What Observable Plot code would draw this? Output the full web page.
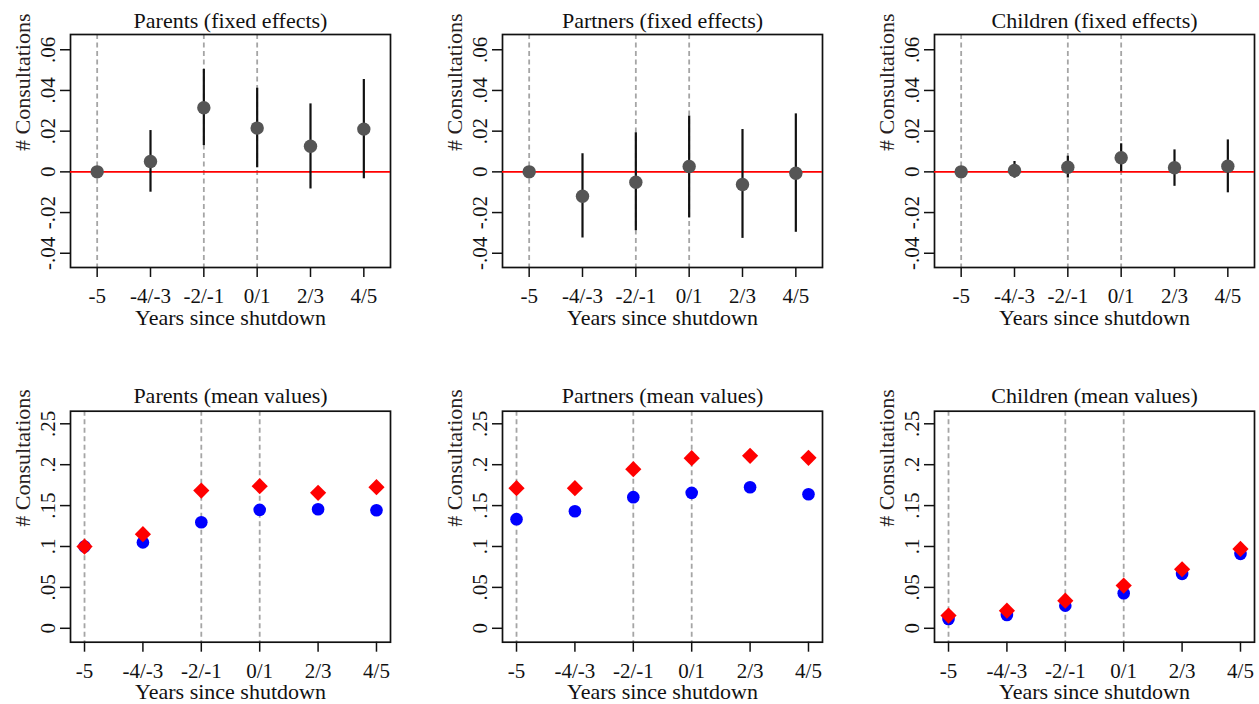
<!DOCTYPE html>
<html>
<head>
<meta charset="utf-8">
<script src="https://cdn.jsdelivr.net/npm/d3@7"></script>
<script src="https://cdn.jsdelivr.net/npm/@observablehq/plot@0.6"></script>
<style>
  html, body { margin: 0; padding: 0; background: #fff; }
  #wrap { position: relative; width: 1259px; height: 704px; overflow: hidden; background: #fff; }
  .panel { position: absolute; }
  #wrap svg, #wrap svg text { font-family: "Liberation Serif", "Times New Roman", serif !important; }
</style>
</head>
<body>
<div id="wrap"></div>
<script>
// ---- Data ----
const periods = ["-5", "-4/-3", "-2/-1", "0/1", "2/3", "4/5"];
const dashedPeriods = ["-5", "-2/-1", "0/1"];

const feTicks = [-0.04, -0.02, 0, 0.02, 0.04, 0.06];
const meanTicks = [0, 0.05, 0.1, 0.15, 0.2, 0.25];

// Fixed effects: point estimates and confidence bounds
const parentsFE   = [0, 0.0051, 0.0315, 0.0215, 0.0126, 0.0210];
const parentsLo   = [null, -0.0100, 0.0129, 0.0020, -0.0084, -0.0034];
const parentsHi   = [null, 0.0203, 0.0503, 0.0411, 0.0334, 0.0454];

const partnersFE  = [0, -0.0120, -0.0051, 0.0026, -0.0062, -0.0007];
const partnersLo  = [null, -0.0325, -0.0289, -0.0226, -0.0327, -0.0297];
const partnersHi  = [null, 0.0089, 0.0192, 0.0274, 0.0208, 0.0285];

const childrenFE  = [0, 0.0007, 0.0023, 0.0069, 0.0020, 0.0028];
const childrenLo  = [null, -0.0031, -0.0030, 0.0001, -0.0071, -0.0103];
const childrenHi  = [null, 0.0051, 0.0077, 0.0138, 0.0108, 0.0157];

// Mean values: blue circles and red diamonds
const parentsBlue  = [0.1000, 0.1050, 0.1297, 0.1448, 0.1456, 0.1444];
const parentsRed   = [0.0999, 0.1150, 0.1684, 0.1737, 0.1656, 0.1725];
const partnersBlue = [0.1334, 0.1431, 0.1603, 0.1656, 0.1725, 0.1639];
const partnersRed  = [0.1713, 0.1713, 0.1945, 0.2080, 0.2108, 0.2084];
const childrenBlue = [0.0114, 0.0163, 0.0277, 0.0428, 0.0665, 0.0910];
const childrenRed  = [0.0155, 0.0216, 0.0338, 0.0522, 0.0722, 0.0970];

const titlesFE = ["Parents (fixed effects)", "Partners (fixed effects)", "Children (fixed effects)"];
const titlesMean = ["Parents (mean values)", "Partners (mean values)", "Children (mean values)"];
const xLabel = "Years since shutdown";
const yLabel = "# Consultations";

// ---- Helpers ----
const FONT = "Liberation Serif, Times New Roman, serif";
function fmtY(d) {
  if (Math.abs(d) < 1e-12) return "0";
  return String(+d.toFixed(3)).replace("0.", ".");
}
const idx = periods.map((_, i) => i);
const dashedIdx = dashedPeriods.map(p => periods.indexOf(p));

function commonMarks(title, yTicks, titleDy, yLabelDx) {
  return [
    Plot.ruleX(dashedIdx, {stroke: "#a5a5a5", strokeWidth: 1.8, strokeDasharray: "5,3.5"}),
    Plot.frame({stroke: "#111", strokeWidth: 1.7}),
    Plot.axisX({ticks: idx, tickFormat: i => periods[i], tickSize: 10, tickPadding: 11, label: null,
                fontSize: 21, fontFamily: FONT, stroke: "#111", strokeWidth: 1.5, fill: "#111"}),
    Plot.axisY({ticks: yTicks, tickFormat: fmtY, tickSize: 10, tickPadding: 6, tickRotate: -90, label: null,
                fontSize: 21, fontFamily: FONT, stroke: "#111", strokeWidth: 1.5, fill: "#111"}),
    Plot.text([title], {text: d => d, frameAnchor: "top", dy: titleDy, fontSize: 22, fontFamily: FONT, fill: "#111", lineAnchor: "middle"}),
    Plot.text([xLabel], {text: d => d, frameAnchor: "bottom", dy: 50, fontSize: 22, fontFamily: FONT, fill: "#111", lineAnchor: "middle"}),
    Plot.text([yLabel], {text: d => d, frameAnchor: "left", dx: yLabelDx, rotate: -90, fontSize: 22, fontFamily: FONT, fill: "#2a1f1f", lineAnchor: "middle"})
  ];
}

const wrap = document.getElementById("wrap");
function place(svg, left, top) {
  const div = document.createElement("div");
  div.className = "panel";
  div.style.left = left + "px";
  div.style.top = top + "px";
  div.appendChild(svg);
  wrap.appendChild(div);
}

// panel geometry: [svgLeft, svgWidth, marginLeft, marginRight]
const cols = [
  [0, 420, 70, 30],
  [420, 420, 82, 18],
  [840, 419, 94, 5]
];

// ---- Top row: fixed effects ----
const feSets = [
  [parentsFE, parentsLo, parentsHi],
  [partnersFE, partnersLo, partnersHi],
  [childrenFE, childrenLo, childrenHi]
];
feSets.forEach(([est, lo, hi], c) => {
  const [left, width, ml, mr] = cols[c];
  const pts = idx.map(i => ({i, est: est[i]}));
  const cis = idx.filter(i => lo[i] != null).map(i => ({i, lo: lo[i], hi: hi[i]}));
  const svg = Plot.plot({
    width, height: 340,
    marginLeft: ml, marginRight: mr, marginTop: 34, marginBottom: 73,
    style: {fontFamily: FONT, fontSize: "21px", background: "transparent", overflow: "visible"},
    x: {type: "linear", domain: [-0.5, 5.5], axis: null},
    y: {domain: [-0.047, 0.0675], axis: null},
    marks: [
      ...commonMarks(titlesFE[c], feTicks, -14, -48),
      Plot.ruleY([0], {stroke: "#ff0000", strokeWidth: 1.6}),
      Plot.ruleX(cis, {x: "i", y1: "lo", y2: "hi", stroke: "#111", strokeWidth: 2.2}),
      Plot.dot(pts, {x: "i", y: "est", r: 6.7, fill: "#555555", stroke: "none"})
    ]
  });
  place(svg, left, 0);
});

// ---- Bottom row: mean values ----
const meanSets = [
  [parentsBlue, parentsRed],
  [partnersBlue, partnersRed],
  [childrenBlue, childrenRed]
];
meanSets.forEach(([blue, red], c) => {
  const [left, width, ml, mr] = cols[c];
  const bl = idx.map(i => ({i, v: blue[i]}));
  const rd = idx.map(i => ({i, v: red[i]}));
  const svg = Plot.plot({
    width, height: 364,
    marginLeft: ml, marginRight: mr, marginTop: 70.7, marginBottom: 62.3,
    style: {fontFamily: FONT, fontSize: "21px", background: "transparent", overflow: "visible"},
    x: {type: "linear", domain: [-0.24, 5.24], axis: null},
    y: {domain: [-0.017, 0.2654], axis: null},
    marks: [
      ...commonMarks(titlesMean[c], meanTicks, -15.7, -48),
      Plot.dot(bl, {x: "i", y: "v", r: 6.3, fill: "#0000ff", stroke: "none"}),
      Plot.dot(rd, {x: "i", y: "v", r: 7.3, symbol: "diamond2", fill: "#ff0000", stroke: "none"})
    ]
  });
  place(svg, left, 340);
});
</script>
</body>
</html>
